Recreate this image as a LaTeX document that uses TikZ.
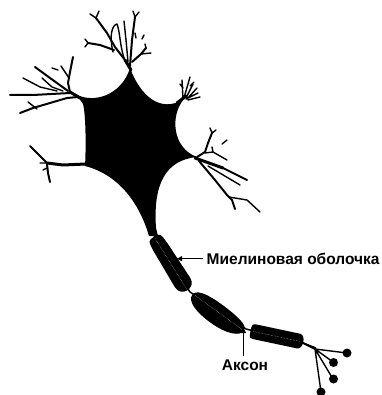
\documentclass[tikz,border=0pt]{standalone}
\usepackage{fontspec}
\setmainfont{Liberation Sans}
\usetikzlibrary{arrows.meta}
\begin{document}
\begin{tikzpicture}[x=1pt,y=-1pt,
  dend/.style={line width=2pt,line cap=round,line join=round},
  twig/.style={line width=1.4pt,line cap=round,line join=round},
  trunk/.style={line width=3pt,line cap=round,line join=round},
  core/.style={draw=white!70!black,line width=0.5pt,densely dotted},
  pointer/.style={line width=1.2pt,-{Triangle[length=5pt,width=5pt]}},
  lbl/.style={font=\bfseries\fontsize{15.5}{15.5}\selectfont,inner sep=0pt},
  bouton/.style={fill=black}]
\useasboundingbox (0,0) rectangle (381,395);
\fill[white] (0,0) rectangle (381,395);

% cell body
\fill (130,68) .. controls (140,95) and (160,114) .. (184,99)
  .. controls (170,115) and (172,148) .. (197,157)
  .. controls (165,160) and (153,185) .. (156,228)
  -- (158,236) -- (149,236)
  .. controls (140,205) and (120,175) .. (85,166)
  .. controls (86,150) and (86,115) .. (83,104)
  .. controls (80,99) and (76,95) .. (72,92)
  .. controls (92,106) and (122,95) .. (130,68) -- cycle;

% upper dendritic tree
\draw[trunk] (131,70) -- (125,60);
\draw[dend] (125,60) -- (115,47) -- (107,33) -- (96,18);
\draw[twig] (96,18) -- (90,14) (96,18) -- (99,11);
\draw[dend] (114,50) -- (100,45) -- (88,43);
\draw[twig] (88,43) -- (85,39) (88,43) -- (85,47);
\draw[twig] (113,52) .. controls (109,36) and (112,25) .. (117,24)
  .. controls (120,32) and (120,46) .. (124,58);
\draw[twig] (128,62) -- (126,40) -- (124,21);
\draw[dend] (130,66) -- (132,40) -- (135,17);
\draw[twig] (135,17) -- (133,11) (135,17) -- (139,12);
\draw[twig] (135,33) -- (136,38) (144,35) -- (142,39);
\draw[dend] (132,62) -- (141,54) -- (146,48);
\draw[twig] (141,54) -- (151,53) (146,48) -- (145,44);

% left dendritic tree
\draw[trunk] (80,98) -- (70,92);
\draw[dend] (70,92) -- (68,83) -- (70,72) -- (73,57);
\draw[twig] (69,78) -- (61,66) (52,68) -- (58,70);
\draw[dend] (68,91) -- (50,78) -- (35,67);
\draw[twig] (42,78) -- (52,87) -- (63,91);
\draw[twig] (23,78) -- (40,87) -- (57,91);
\draw[dend] (70,93) -- (33,95) -- (10,95);
\draw[dend] (78,97) -- (67,98) -- (50,103) -- (33,108) -- (20,113);
\draw[twig] (28,102) -- (37,109);

% lower left dendrite
\draw[trunk] (86,164) -- (63,165) -- (47,163);
\draw[dend] (47,163) -- (38,154) -- (30,146);
\draw[twig] (47,163) -- (40,163) (47,168) -- (43,170);
\draw[dend] (47,164) -- (48,173) -- (50,182);

% upper right tuft
\draw[trunk] (177,103) -- (186,96);
\draw[twig] (183,99) -- (182,80) (184,98) -- (190,77) (186,98) -- (193,84)
  (187,99) -- (197,88) (188,100) -- (200,97) (186,99) -- (198,93)
  (183,88) -- (180,84) (190,86) -- (194,82);

% right dendritic tree
\draw[dend] (197,157) -- (205,152) -- (208,143) -- (212,133);
\draw[twig] (212,133) -- (210,128) (212,133) -- (216,130);
\draw[twig] (222,144) -- (227,140);
\draw[twig] (205,153) -- (213,152) -- (227,160) (213,152) -- (212,147);
\draw[trunk] (195,158) -- (223,168);
\draw[dend] (223,168) -- (247,180);
\draw[twig] (208,166) -- (240,185);
\draw[dend] (199,161) -- (215,180) -- (227,195) -- (232,200) -- (235,209);
\draw[twig] (229,197) -- (247,200) -- (260,212);

% axon with myelin sheath
\draw[line width=1.5pt] (153,234) -- (190,292) -- (246,329) -- (303,343) -- (316,348);
\begin{scope}[shift={(171,264)},rotate=-58]
  \fill (-32,0) .. controls (-32,-7) .. (-20,-8) -- (22,-9)
    .. controls (34,-9) and (34,9) .. (22,9) -- (-20,8)
    .. controls (-32,7) .. (-32,0) -- cycle;
  \draw[core] (-30,0) -- (30,0);
\end{scope}
\begin{scope}[shift={(218,312)},rotate=-36]
  \fill (-31,1) .. controls (-31,-8) and (-10,-9) .. (10,-8)
    .. controls (25,-7) and (32,-5) .. (32,0)
    .. controls (32,7) and (20,13) .. (0,13)
    .. controls (-18,13) and (-31,9) .. (-31,1) -- cycle;
  \draw[core] (-28,0) -- (30,0);
\end{scope}
\begin{scope}[shift={(277,336.5)},rotate=-12]
  \fill (-27,0) .. controls (-27,-7.5) .. (-20,-7.5) -- (22,-7.5)
    .. controls (28.5,-7.5) and (28.5,7.5) .. (22,7.5) -- (-20,7.5)
    .. controls (-27,7.5) .. (-27,0) -- cycle;
  \draw[core] (-24,0) -- (24,0);
\end{scope}

% axon terminals
\coordinate (fork) at (315,349);
\draw[dend] (303,343) -- (fork);
\draw[twig] (fork) -- (347,353) (fork) -- (333,362) (fork) -- (333,379) (fork) -- (321,392);
\fill[bouton] (347,353) circle (4.5) (333.5,362.5) circle (4.5)
  (333.5,379) circle (4.5) (321,392) circle (4.5);

% labels
\node[lbl,anchor=base west] (mlabel) at (206.5,264.3) {Миелиновая оболочка};
\node[lbl,anchor=base west] (alabel) at (221.7,370) {Аксон};
\coordinate (sheathpt) at (177,0 |- mlabel.west);
\coordinate (nodept) at (243.5,328);
\draw[pointer] ([xshift=-4pt]mlabel.west) -- (sheathpt);
\draw[pointer] ([yshift=3pt]alabel.north -| nodept) -- (nodept);
\end{tikzpicture}
\end{document}
